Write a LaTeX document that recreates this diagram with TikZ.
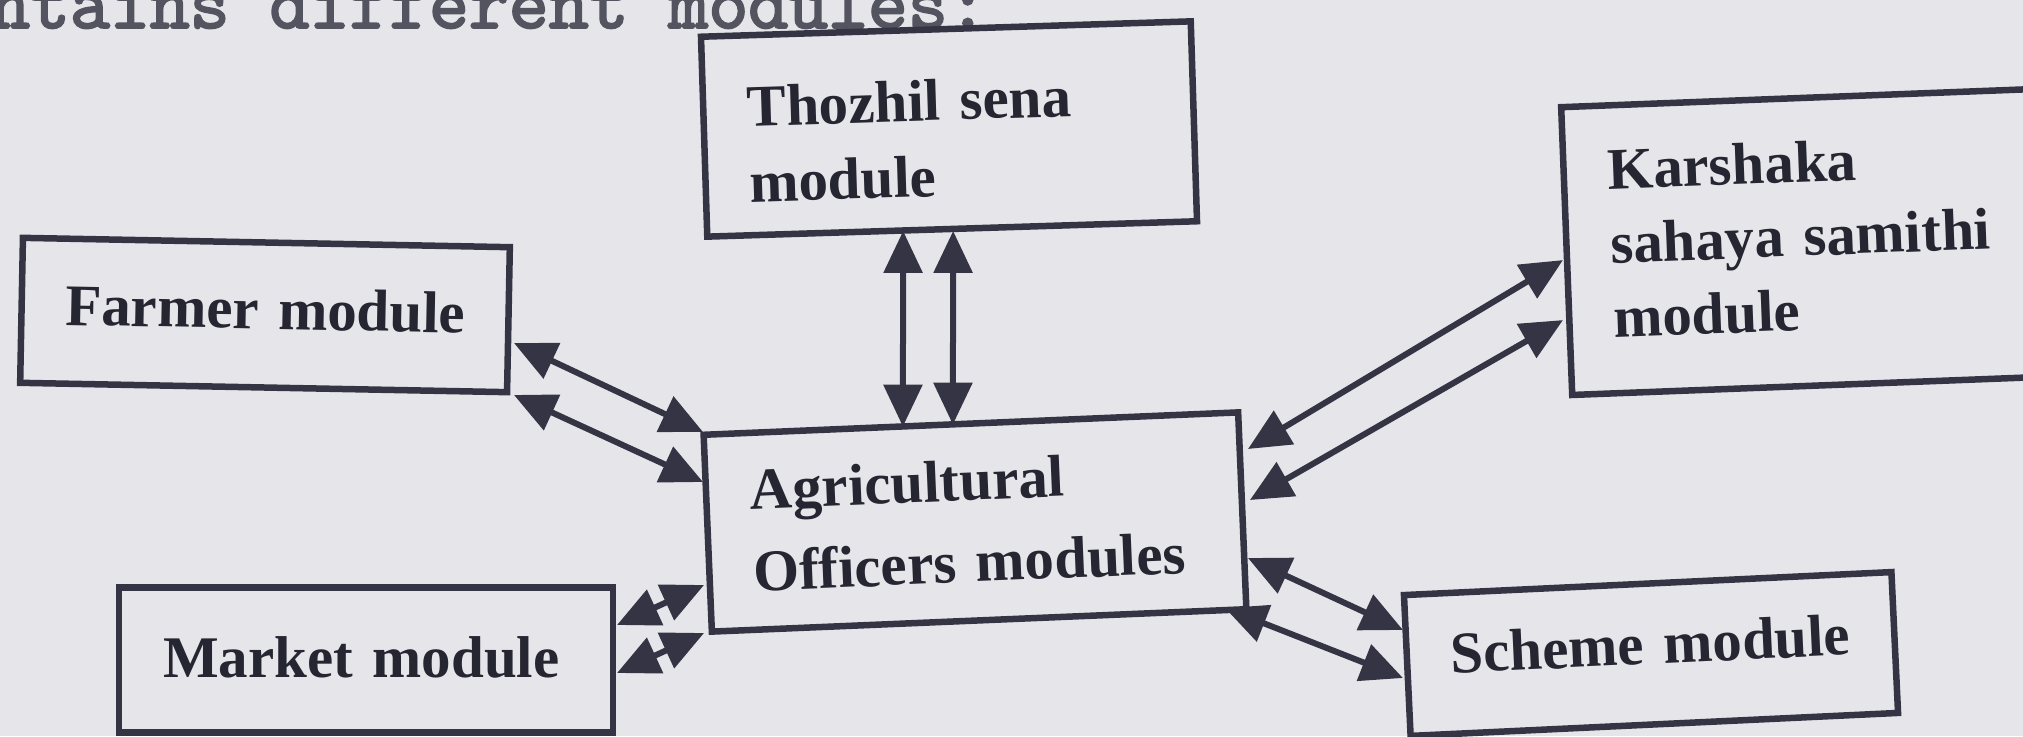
\documentclass[tikz,border=0pt]{standalone}
\usepackage{fontspec}
\setmainfont{Liberation Serif}
\newfontfamily\leadfont{lmmono10-regular.otf}[FakeBold=2.5]
\usetikzlibrary{arrows.meta,calc}
\definecolor{paper}{RGB}{230,230,234}
\definecolor{ink}{RGB}{52,52,68}
\definecolor{txt}{RGB}{38,38,50}
\definecolor{headtxt}{RGB}{84,84,96}
\begin{document}
\begin{tikzpicture}[x=1pt,y=-1pt,
  modbox/.style={draw=ink, line width=6.5pt, fill=paper, rectangle, outer sep=0pt,
    inner xsep=44pt, inner ysep=0pt, align=left, text=txt,
    font=\fontsize{59}{76}\selectfont\bfseries},
  % first baseline sits #1 below the box centre
  firstline/.style={text height=50pt+#1, text depth=50pt-#1},
  biarrow/.style={draw=ink, line width=6pt,
    {Triangle[length=42pt,width=38pt]}-{Triangle[length=42pt,width=38pt]}}
]
\fill[paper] (0,0) rectangle (2023,736);
\useasboundingbox (0,0) rectangle (2023,736);
\clip (0,0) rectangle (2023,736);

% sentence running above the figure
\node[anchor=base west, inner sep=0pt, text=headtxt,
  font=\fontsize{76}{80}\selectfont\leadfont] (lead) at (-10,28) {ntains different modules:};

% module boxes
\node[modbox, text width=402pt, minimum height=200pt, rotate=1.8, firstline=-9]
  (thozhil) at (949,129) {\mbox{Thozhil sena}\\\mbox{module}};
\node[modbox, text width=399pt, minimum height=145pt, rotate=-1.1, firstline=14]
  (farmer) at (265,315) {\mbox{Farmer module}};
\node[modbox, text width=406pt, minimum height=145pt, firstline=17]
  (market) at (366,660) {\mbox{Market module}};
\node[modbox, text width=447pt, minimum height=197pt, rotate=2.4, firstline=-22,
  font=\fontsize{59}{82}\selectfont\bfseries]
  (agri) at (975,522) {\mbox{Agricultural}\\\mbox{Officers modules}};
\node[modbox, text width=385pt, minimum height=288pt, rotate=2.2, firstline=-70,
  font=\fontsize{59}{74}\selectfont\bfseries]
  (karshaka) at (1803,242) {\mbox{Karshaka}\\\mbox{sahaya samithi}\\\mbox{module}};
\node[modbox, text width=400pt, minimum height=141pt, rotate=2.7, firstline=10]
  (scheme) at (1651,654) {\mbox{Scheme module}};

% two-way links to the agricultural officers module
\draw[biarrow] ($(thozhil.south)+(-49,2)$) -- ($(agri.north)+(-68,3)$);
\draw[biarrow] ($(thozhil.south)+(1,2)$) -- ($(agri.north)+(-18,1)$);
\draw[biarrow] ($(farmer.east)+(5.5,23.3)$) -- ($(agri.west)+(-4.7,-101.2)$);
\draw[biarrow] ($(farmer.east)+(5.5,75.3)$) -- ($(agri.west)+(-4.7,-51.2)$);
\draw[biarrow] ($(market.east)+(4,-35)$) -- ($(agri.west)+(-3.7,51.8)$);
\draw[biarrow] ($(market.east)+(4,13)$) -- ($(agri.west)+(-3.7,99.8)$);
\draw[biarrow] ($(agri.east)+(5.7,-61.8)$) -- ($(karshaka.west)+(-3.7,9)$);
\draw[biarrow] ($(agri.east)+(7.7,-10.8)$) -- ($(karshaka.west)+(-3.7,69)$);
\draw[biarrow] ($(agri.east)+(5.7,47.2)$) -- ($(scheme.west)+(-4.3,-35.5)$);
\draw[biarrow] ($(agri.east)+(-17.3,97.2)$) -- ($(scheme.west)+(-4.3,12.5)$);
\end{tikzpicture}
\end{document}
